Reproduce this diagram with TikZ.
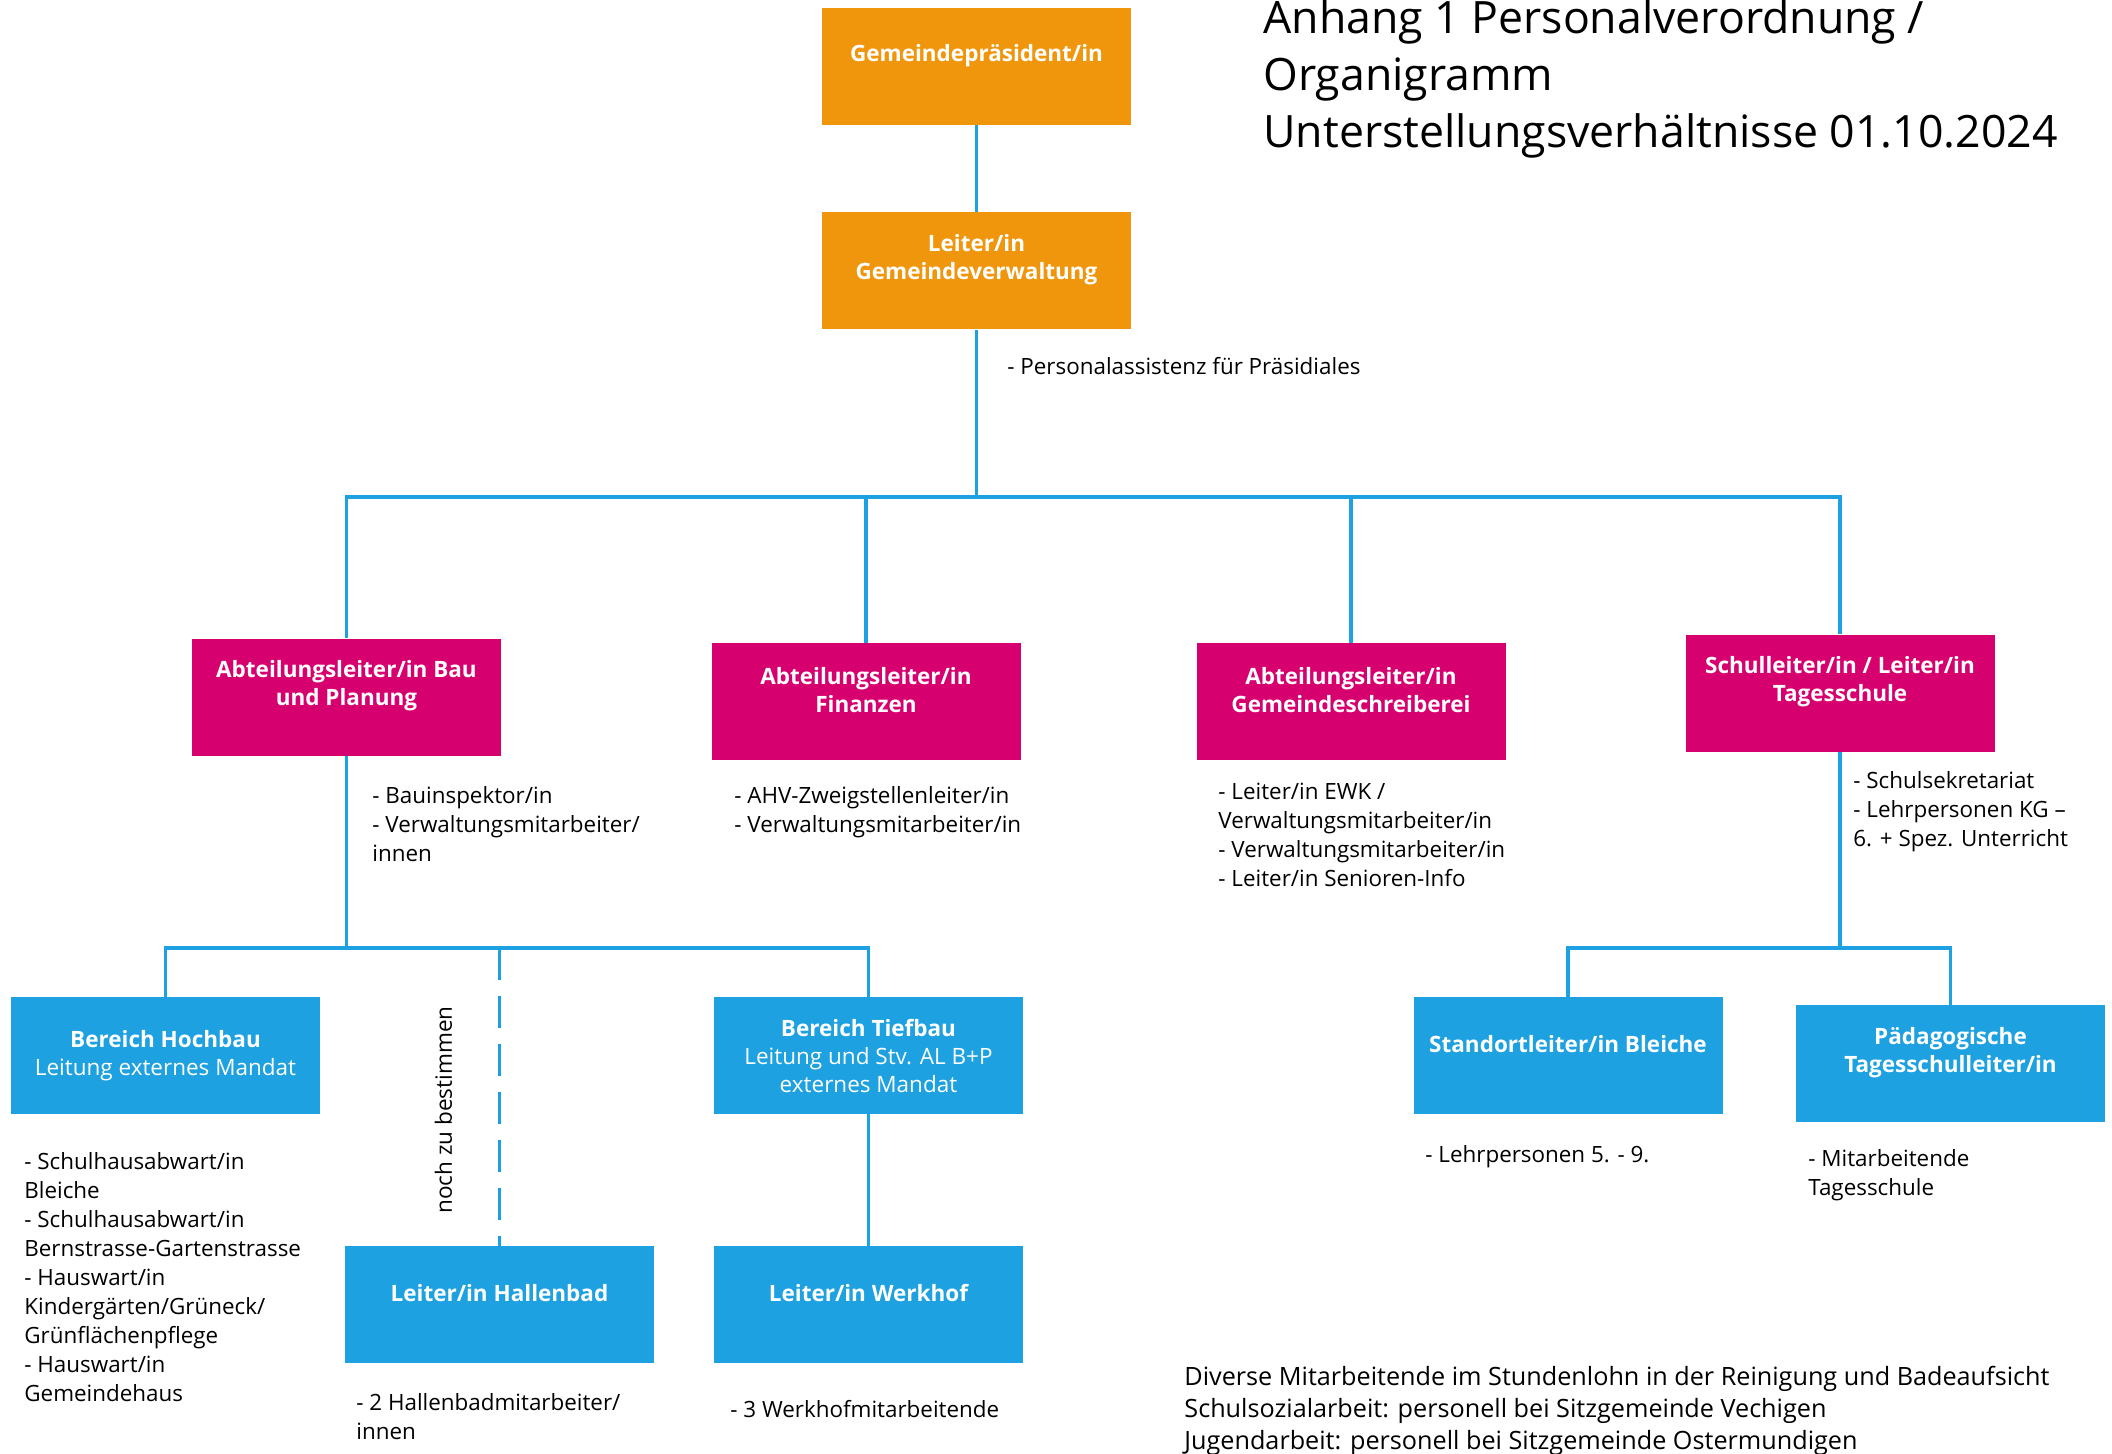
\documentclass[tikz,border=0pt]{standalone}
\usepackage{fontspec}
\setmainfont{Open Sans}
\usetikzlibrary{positioning}

\definecolor{orgorange}{RGB}{240,150,12}
\definecolor{orgmagenta}{RGB}{214,0,111}
\definecolor{orgblue}{RGB}{29,161,224}

\tikzset{
  orgbox/.style={rectangle, minimum width=154.5pt, minimum height=58.5pt, inner sep=0pt},
  boxtext/.style={text=white, align=center, inner sep=0pt, font=\fontsize{11.25}{14}\selectfont},
  note/.style={anchor=north west, align=left, inner sep=0pt, font=\fontsize{11.2}{14.5}\selectfont,
    execute at begin node=\strut},
  conn/.style={draw=orgblue, line width=1.7pt},
}

\begin{document}
\begin{tikzpicture}[x=0.5pt, y=-0.5pt]
    \def \dy {23.8pt} % text offset below box top

    \useasboundingbox[fill=white] (0,0) rectangle (2112,1454);

    % Draw boxes
    \node[orgbox, fill=orgorange] (praes) at (976.5,66.5) {};
    \node[orgbox, fill=orgorange] (gv) at (976.5,271) {};
    \node[orgbox, fill=orgmagenta] (bau) at (346.5,697) {};
    \node[orgbox, fill=orgmagenta] (fin) at (866,701.5) {};
    \node[orgbox, fill=orgmagenta] (schreib) at (1351,701.5) {};
    \node[orgbox, fill=orgmagenta] (schul) at (1840,693) {};
    \node[orgbox, fill=orgblue] (hochbau) at (165.5,1055.5) {};
    \node[orgbox, fill=orgblue] (tiefbau) at (868.5,1055.5) {};
    \node[orgbox, fill=orgblue] (hallenbad) at (499.5,1304.5) {};
    \node[orgbox, fill=orgblue] (werkhof) at (868.5,1304.5) {};
    \node[orgbox, fill=orgblue] (standort) at (1568,1055.5) {};
    \node[orgbox, fill=orgblue] (paed) at (1950.5,1063.5) {};

    % Box texts
    \node[boxtext] (praes-t) at ([yshift=-\dy]praes.north) {\bfseries Gemeindepräsident/in};
    \node[boxtext] (gv-t) at ([yshift=-\dy]gv.north) {\bfseries Leiter/in\\\bfseries Gemeindeverwaltung};
    \node[boxtext] (bau-t) at ([yshift=-\dy]bau.north) {\bfseries Abteilungsleiter/in Bau\\\bfseries und Planung};
    \node[boxtext] (fin-t) at ([yshift=-\dy]fin.north) {\bfseries Abteilungsleiter/in\\\bfseries Finanzen};
    \node[boxtext] (schreib-t) at ([yshift=-\dy]schreib.north) {\bfseries Abteilungsleiter/in\\\bfseries Gemeindeschreiberei};
    \node[boxtext] (schul-t) at ([yshift=-\dy]schul.north) {\bfseries Schulleiter/in / Leiter/in\\\bfseries Tagesschule};
    \node[boxtext] (hochbau-t) at (hochbau.center) {\bfseries Bereich Hochbau\\Leitung externes Mandat};
    \node[boxtext] (tiefbau-t) at (tiefbau.center) {\bfseries Bereich Tiefbau\\Leitung und Stv. AL B+P\\externes Mandat};
    \node[boxtext] (hallenbad-t) at ([yshift=-\dy]hallenbad.north) {\bfseries Leiter/in Hallenbad};
    \node[boxtext] (werkhof-t) at ([yshift=-\dy]werkhof.north) {\bfseries Leiter/in Werkhof};
    \node[boxtext] (standort-t) at ([yshift=-\dy]standort.north) {\bfseries Standortleiter/in Bleiche};
    \node[boxtext] (paed-t) at ([yshift=-\dy]paed.north) {\bfseries Pädagogische\\\bfseries Tagesschulleiter/in};

    % Connectors
    \coordinate (bus) at (976.5,497);
    \coordinate (busL) at (346.5,948);
    \coordinate (busR) at (1840,948);
    \draw[conn] (praes) -- (gv);
    \draw[conn] (gv) -- (bus);
    \foreach \n in {bau,fin,schreib,schul}
      \draw[conn] (bus) -| (\n.north);
    \draw[conn] (bau) -- (busL);
    \draw[conn] (busL) -| (hochbau.north);
    \draw[conn] (busL) -| (tiefbau.north);
    \draw[conn, dash pattern=on 16pt off 8pt] (busL -| hallenbad.north) -- (hallenbad.north);
    \draw[conn] (tiefbau) -- (werkhof);
    \draw[conn] (schul) -- (busR);
    \draw[conn] (busR) -| (standort.north);
    \draw[conn] (busR) -| (paed.north);

    % Labels
    \node[note] (assist) at (1007,354) {- Personalassistenz für Präsidiales};
    \node[note] (bau-l) at (372,786) {- Bauinspektor/in\\- Verwaltungsmitarbeiter/\\innen};
    \node[note] (fin-l) at (734,786) {- AHV-Zweigstellenleiter/in\\- Verwaltungsmitarbeiter/in};
    \node[note] (schreib-l) at (1218,783) {- Leiter/in EWK /\\Verwaltungsmitarbeiter/in\\- Verwaltungsmitarbeiter/in\\- Leiter/in Senioren-Info};
    \node[note] (schul-l) at (1853,771) {- Schulsekretariat\\- Lehrpersonen KG –\\6. + Spez. Unterricht};
    \node[note] (hochbau-l) at (24,1152) {- Schulhausabwart/in\\Bleiche\\- Schulhausabwart/in\\Bernstrasse-Gartenstrasse\\- Hauswart/in\\Kindergärten/Grüneck/\\Grünflächenpflege\\- Hauswart/in\\Gemeindehaus};
    \node[note] (hallenbad-l) at (356,1393) {- 2 Hallenbadmitarbeiter/\\innen};
    \node[note] (werkhof-l) at (730,1397) {- 3 Werkhofmitarbeitende};
    \node[note] (standort-l) at (1425,1142) {- Lehrpersonen 5. - 9.};
    \node[note] (paed-l) at (1808,1149) {- Mitarbeitende\\Tagesschule};
    \node[note, anchor=center, rotate=90, font=\fontsize{11.25}{12}\selectfont, execute at begin node={}] (offen) at (447,1110) {noch zu bestimmen};
    \node[note, font=\fontsize{12.6}{16}\selectfont] (footer) at (1184,1366) {Diverse Mitarbeitende im Stundenlohn in der Reinigung und Badeaufsicht\\Schulsozialarbeit: personell bei Sitzgemeinde Vechigen\\Jugendarbeit: personell bei Sitzgemeinde Ostermundigen};
    \node[note, font=\fontsize{22.3}{28.5}\selectfont] (title) at (1263,-1) {Anhang 1 Personalverordnung /\\Organigramm\\Unterstellungsverhältnisse 01.10.2024};
\end{tikzpicture}
\end{document}
